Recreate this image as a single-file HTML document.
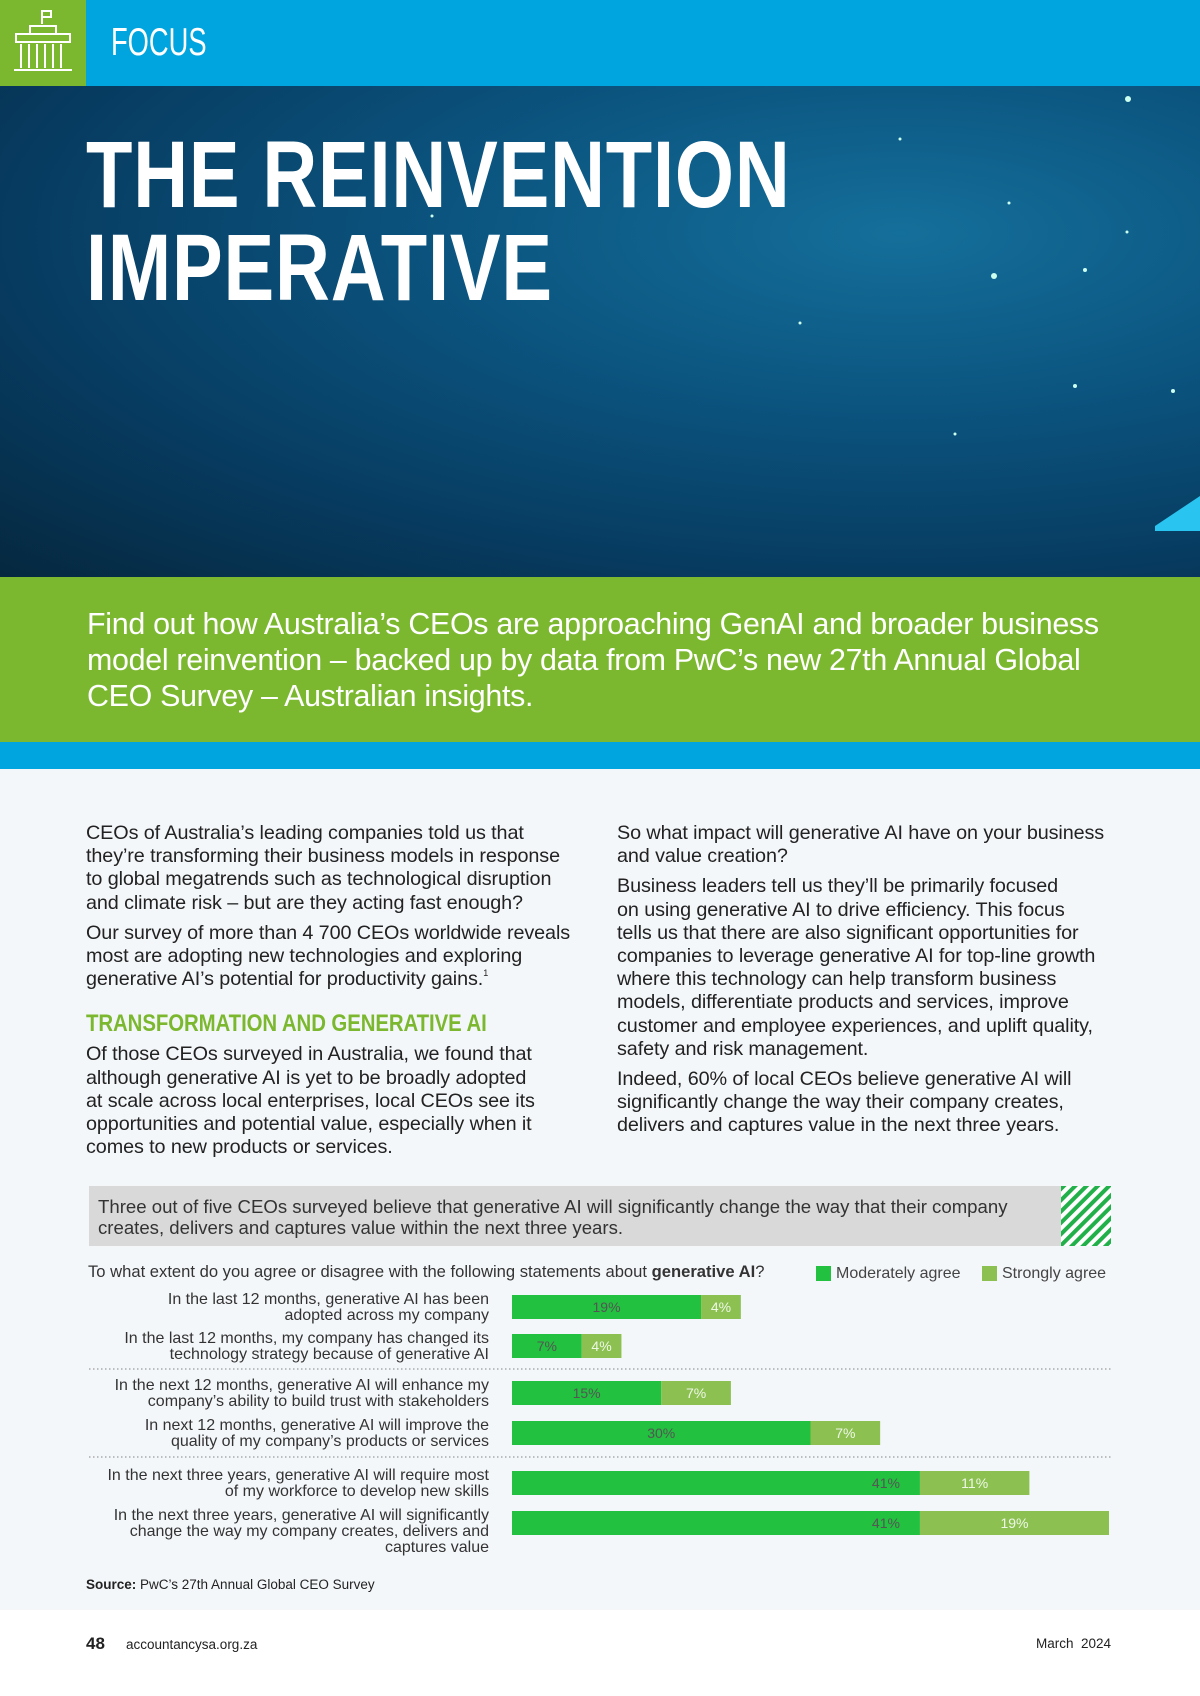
<!DOCTYPE html>
<html><head><meta charset="utf-8">
<style>
*{margin:0;padding:0;box-sizing:border-box}
body{width:1200px;height:1696px;position:relative;background:#fff;font-family:"Liberation Sans",sans-serif;overflow:hidden}
.abs{position:absolute}
.body{font-size:19.8px;line-height:23.2px;color:#222;letter-spacing:-0.1px}
.body p{margin-bottom:7px}
sup{font-size:9px;line-height:0;position:relative;top:-2px;vertical-align:super}
.sq{transform-origin:0 0;white-space:nowrap}
</style></head><body>
<div class="abs" style="left:0;top:0;width:1200px;height:86px;background:#00a5df"></div>
<div class="abs" style="left:0;top:0;width:86px;height:86px;background:#7cb82f">
<svg width="86" height="86" viewBox="0 0 86 86"><g fill="none" stroke="#fff" stroke-width="2"><path d="M42 10v14M42 11h9v6h-9"/><path d="M30 26h26v8H30z"/><path d="M16 34h54v8H16z"/><path d="M21 44v24M29 44v24M37 44v24M45 44v24M53 44v24M61 44v24"/><path d="M14 70h58"/></g></svg></div>
<div class="abs sq" style="left:111px;top:22px;font-size:39px;color:#fff;line-height:42px;transform:scaleX(0.7)">FOCUS</div>
<div class="abs" style="left:0;top:86px;width:1200px;height:491px;background:radial-gradient(ellipse at 75% 30%,#146f9a 0%,#0b5580 35%,#073b60 70%,#05283f 100%)"></div>
<svg class="abs" style="left:0;top:86px" width="1200" height="491"><g fill="#cfe">
<circle cx="1128" cy="13" r="3"/><circle cx="900" cy="53" r="1.5"/><circle cx="994" cy="190" r="3"/><circle cx="1009" cy="117" r="1.5"/><circle cx="1127" cy="146" r="1.5"/><circle cx="1085" cy="184" r="2"/><circle cx="800" cy="237" r="1.5"/><circle cx="1075" cy="300" r="2"/><circle cx="1173" cy="305" r="2"/><circle cx="955" cy="348" r="1.5"/><circle cx="432" cy="130" r="1.5"/></g>
<path d="M1155 440l45-30v35h-45z" fill="#29c4f0"/></svg>
<div class="abs sq" style="left:86px;top:129px;font-size:95px;line-height:93px;font-weight:bold;color:#fff;letter-spacing:1px;transform:scaleX(0.8)">THE REINVENTION<br>IMPERATIVE</div>
<div class="abs" style="left:0;top:577px;width:1200px;height:165px;background:#7cb82f"></div>
<div class="abs" style="left:87px;top:606px;font-size:30.4px;line-height:36px;color:#fff;letter-spacing:-0.3px">Find out how Australia’s CEOs are approaching GenAI and broader business<br>model reinvention – backed up by data from PwC’s new 27th Annual Global<br>CEO Survey – Australian insights.</div>
<div class="abs" style="left:0;top:742px;width:1200px;height:27px;background:#00a5df"></div>
<div class="abs" style="left:0;top:769px;width:1200px;height:841px;background:#f4f7fa"></div>

<div class="abs body" style="left:86px;top:822px;width:560px">
<p>CEOs of Australia’s leading companies told us that<br>they’re transforming their business models in response<br>to global megatrends such as technological disruption<br>and climate risk – but are they acting fast enough?</p>
<p>Our survey of more than 4 700 CEOs worldwide reveals<br>most are adopting new technologies and exploring<br>generative AI’s potential for productivity gains.<sup>1</sup></p>
<div class="sq" style="font-weight:bold;color:#7cb82f;font-size:24px;line-height:26px;margin:20px 0 6px;transform:scaleX(0.85)">TRANSFORMATION AND GENERATIVE AI</div>
<p>Of those CEOs surveyed in Australia, we found that<br>although generative AI is yet to be broadly adopted<br>at scale across local enterprises, local CEOs see its<br>opportunities and potential value, especially when it<br>comes to new products or services.</p>
</div>
<div class="abs body" style="left:617px;top:822px;width:560px">
<p>So what impact will generative AI have on your business<br>and value creation?</p>
<p>Business leaders tell us they’ll be primarily focused<br>on using generative AI to drive efficiency. This focus<br>tells us that there are also significant opportunities for<br>companies to leverage generative AI for top-line growth<br>where this technology can help transform business<br>models, differentiate products and services, improve<br>customer and employee experiences, and uplift quality,<br>safety and risk management.</p>
<p>Indeed, 60% of local CEOs believe generative AI will<br>significantly change the way their company creates,<br>delivers and captures value in the next three years.</p>
</div>

<div class="abs" style="left:89px;top:1186px;width:1022px;height:60px;background:#d9d9d9"></div>
<svg class="abs" style="left:1061px;top:1186px" width="50" height="60"><defs><pattern id="h" width="8" height="8" patternUnits="userSpaceOnUse" patternTransform="rotate(45)"><rect width="4" height="8" fill="#22b04a"/></pattern></defs><rect width="50" height="60" fill="#fff"/><rect width="50" height="60" fill="url(#h)"/></svg>
<div class="abs" style="left:98px;top:1196px;font-size:18.6px;line-height:21px;color:#333">Three out of five CEOs surveyed believe that generative AI will significantly change the way that their company<br>creates, delivers and captures value within the next three years.</div>
<div class="abs" style="left:88px;top:1262px;font-size:16.6px;color:#333">To what extent do you agree or disagree with the following statements about <b>generative AI</b>?</div>
<div class="abs" style="left:816px;top:1266px;width:15px;height:15px;background:#22c13f"></div>
<div class="abs" style="left:836px;top:1265px;font-size:16px;color:#444">Moderately agree</div>
<div class="abs" style="left:982px;top:1266px;width:15px;height:15px;background:#8cc152"></div>
<div class="abs" style="left:1002px;top:1265px;font-size:16px;color:#444">Strongly agree</div>

<svg id="chart" class="abs" style="left:0;top:0" width="1200" height="1696"></svg>
<div class="abs" style="left:86px;top:1577px;font-size:13.5px;color:#222"><b>Source:</b> PwC’s 27th Annual Global CEO Survey</div>

<div class="abs" style="left:86px;top:1634px;font-size:17px;font-weight:bold;color:#222">48</div>
<div class="abs" style="left:126px;top:1637px;font-size:13.5px;color:#222">accountancysa.org.za</div>
<div class="abs" style="left:1036px;top:1636px;font-size:13.5px;color:#222">March &nbsp;2024</div>

<script>
const labels=[
["In the last 12 months, generative AI has been","adopted across my company"],
["In the last 12 months, my company has changed its","technology strategy because of generative AI"],
["In the next 12 months, generative AI will enhance my","company’s ability to build trust with stakeholders"],
["In next 12 months, generative AI will improve the","quality of my company’s products or services"],
["In the next three years, generative AI will require most","of my workforce to develop new skills"],
["In the next three years, generative AI will significantly","change the way my company creates, delivers and","captures value"]];
const moderately=[19,7,15,30,41,41];
const strongly=[4,4,7,7,11,19];
const svg=document.getElementById('chart');
const NS='http://www.w3.org/2000/svg';
const x0=512, scale=9.95;
const x=v=>x0+v*scale;
const rowY=[1307,1346,1393,1433,1483,1523];
const bh=24;
function mk(t,a){const e=document.createElementNS(NS,t);for(const k in a)e.setAttribute(k,a[k]);svg.appendChild(e);return e;}
[1369,1457].forEach(y=>{
const l=mk('line',{x1:89,x2:1111,y1:y,y2:y,stroke:'#aaa','stroke-width':1.5,'stroke-dasharray':'1.5 2.5'});


});
moderately.forEach((m,i)=>{
const s=strongly[i];const cy=rowY[i];
const r1=mk('rect',{x:x(0),y:cy-bh/2,width:x(m)-x(0),height:bh,fill:'#22c13f'});


const r2=mk('rect',{x:x(m),y:cy-bh/2,width:x(m+s)-x(m),height:bh,fill:'#8cc152'});


const big=m>=40;
const t1=mk('text',{x:big?x(m)-20:(x(0)+x(m))/2,y:cy+5,'text-anchor':big?'end':'middle','font-size':14,fill:'#555','font-family':'Liberation Sans, sans-serif'});
t1.textContent=m+'%';


const t2=mk('text',{x:(x(m)+x(m+s))/2,y:cy+5,'text-anchor':'middle','font-size':14,fill:'#eef7e6','font-family':'Liberation Sans, sans-serif'});
t2.textContent=s+'%';


labels[i].forEach((ln,j)=>{
const t=mk('text',{x:489,y:cy-3+j*16,'text-anchor':'end','font-size':16,fill:'#333','font-family':'Liberation Sans, sans-serif'});
t.textContent=ln;


});
});
</script>
</body></html>
